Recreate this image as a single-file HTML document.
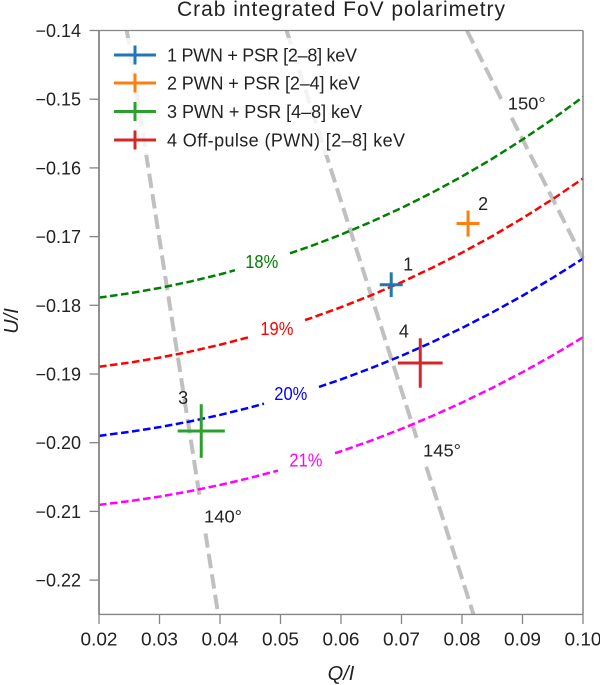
<!DOCTYPE html>
<html lang="en">
<head>
<meta charset="utf-8">
<title>Crab integrated FoV polarimetry</title>
<style>
html,body{margin:0;padding:0;background:#fff;width:600px;height:685px;overflow:hidden}
svg{display:block}
text{font-family:"Liberation Sans",sans-serif;fill:#222}
</style>
</head>
<body>
<svg id="chart" width="600" height="685" viewBox="0 0 600 685" xmlns="http://www.w3.org/2000/svg">
<rect x="0" y="0" width="600" height="685" fill="#fff"/>
<g id="angles"></g>
<g id="contours"></g>
<g id="points"></g>
<g id="legend"></g>
<g id="axes"></g>
<text x="341" y="16" font-size="21" text-anchor="middle" textLength="328" lengthAdjust="spacing">Crab integrated FoV polarimetry</text>
<text x="341" y="680" font-size="20" font-style="italic" text-anchor="middle">Q/I</text>
<text transform="translate(18,321) rotate(-90)" font-size="20" font-style="italic" text-anchor="middle">U/I</text>
</svg>
<script>
var xTicks = [0.02, 0.03, 0.04, 0.05, 0.06, 0.07, 0.08, 0.09, 0.10];
var yTicks = [-0.14, -0.15, -0.16, -0.17, -0.18, -0.19, -0.20, -0.21, -0.22];
var xTickLabels = ['0.02', '0.03', '0.04', '0.05', '0.06', '0.07', '0.08', '0.09', '0.10'];
var yTickLabels = ['\u22120.14', '\u22120.15', '\u22120.16', '\u22120.17', '\u22120.18', '\u22120.19', '\u22120.20', '\u22120.21', '\u22120.22'];

var contourQ = [0.02, 0.025, 0.03, 0.035, 0.04, 0.045, 0.05, 0.055, 0.06, 0.065, 0.07, 0.075, 0.08, 0.085, 0.09, 0.095, 0.10];
var contour18U = [-0.17889, -0.17826, -0.17748, -0.17656, -0.17550, -0.17428, -0.17292, -0.17139, -0.16971, -0.16785, -0.16583, -0.16363, -0.16125, -0.15867, -0.15588, -0.15289, -0.14967];
var contour19U = [-0.18894, -0.18835, -0.18762, -0.18675, -0.18574, -0.18459, -0.18330, -0.18187, -0.18028, -0.17854, -0.17664, -0.17457, -0.17234, -0.16993, -0.16733, -0.16454, -0.16155];
var contour20U = [-0.19900, -0.19843, -0.19774, -0.19691, -0.19596, -0.19487, -0.19365, -0.19229, -0.19079, -0.18914, -0.18735, -0.18540, -0.18330, -0.18104, -0.17861, -0.17600, -0.17321];
var contour21U = [-0.20905, -0.20851, -0.20785, -0.20706, -0.20616, -0.20512, -0.20396, -0.20267, -0.20125, -0.19969, -0.19799, -0.19615, -0.19416, -0.19203, -0.18974, -0.18728, -0.18466];
var contourSeries = [contour18U, contour19U, contour20U, contour21U];
var contourNames = ['18%', '19%', '20%', '21%'];
var contourGapStart = [0.04248, 0.04496, 0.04727, 0.04959];
var contourGapEnd = [0.05157, 0.05405, 0.05636, 0.05901];
var contourLabelQ = [0.0469, 0.0494, 0.0517, 0.0542];
var contourLabelU = [-0.17457, -0.1843, -0.1938, -0.2035];

var angle140Q = [0.0246, 0.0367, 0.0376, 0.0397];
var angle140U = [-0.14, -0.2082, -0.2132, -0.225];
var angle145Q = [0.0510, 0.0725, 0.0741, 0.0819];
var angle145U = [-0.14, -0.1993, -0.2035, -0.225];
var angle150Q = [0.0808, 0.0865, 0.0882, 0.10];
var angle150U = [-0.14, -0.15, -0.1527, -0.1732];
var angleLinesQ = [angle140Q, angle145Q, angle150Q];
var angleLinesU = [angle140U, angle145U, angle150U];
var angleNames = ['140\u00b0', '145\u00b0', '150\u00b0'];
var angleLabelQ = [0.0405, 0.0767, 0.0907];
var angleLabelU = [-0.2116, -0.2020, -0.1515];

var pointNames = ['1', '2', '3', '4'];
var pointQ = [0.0683, 0.0810, 0.0369, 0.0731];
var pointU = [-0.1770, -0.1681, -0.1983, -0.1884];
var pointQErr = [0.0019, 0.0019, 0.0039, 0.0037];
var pointUErr = [0.0018, 0.0019, 0.0039, 0.0036];
var pointLabelQ = [0.0711, 0.0835, 0.0339, 0.0704];
var pointLabelU = [-0.1749, -0.1661, -0.1944, -0.1847];
var legendLabels = ['1 PWN + PSR [2\u20138] keV', '2 PWN + PSR [2\u20134] keV', '3 PWN + PSR [4\u20138] keV', '4 Off-pulse (PWN) [2\u20138] keV'];

var NS = 'http://www.w3.org/2000/svg';
var pointColors = ['#1f77b4', '#ff7f0e', '#2ca02c', '#d62728'];
var contourColors = ['#008000', '#ff0000', '#0000ff', '#ff00ff'];

function xScale(q) { return 99 + (q - 0.02) * 6050; }
function yScale(u) { return 30.5 + (-0.14 - u) * 6870; }
function mk(tag, parent, attrs) {
  var el = document.createElementNS(NS, tag);
  for (var k in attrs) el.setAttribute(k, attrs[k]);
  document.getElementById(parent).appendChild(el);
  return el;
}
function interpU(q, qs, us) {
  for (var i = 0; i < qs.length - 1; i++) {
    if (q >= qs[i] && q <= qs[i + 1]) {
      return us[i] + (us[i + 1] - us[i]) * (q - qs[i]) / (qs[i + 1] - qs[i]);
    }
  }
  return us[us.length - 1];
}
function toPath(qs, us) {
  var d = '';
  for (var i = 0; i < qs.length; i++) {
    d += (i ? 'L' : 'M') + xScale(qs[i]).toFixed(2) + ' ' + yScale(us[i]).toFixed(2);
  }
  return d;
}

// Angle lines
angleLinesQ.forEach(function (qs, i) {
  var us = angleLinesU[i];
  var seg = mk('path', 'angles', {d: toPath(qs.slice(0, 2), us.slice(0, 2)) + toPath(qs.slice(2), us.slice(2)), fill: 'none', stroke: '#c0c0c0', 'stroke-width': 4, 'stroke-dasharray': '14.5 6.2'});
  
  
  var lab = mk('text', 'angles', {x: xScale(angleLabelQ[i]), y: yScale(angleLabelU[i]), 'font-size': 17.5, 'text-anchor': 'middle', textLength: 38, lengthAdjust: 'spacingAndGlyphs'});
  
  
  lab.textContent = angleNames[i];
});

// Contours
contourSeries.forEach(function (us, i) {
  var g0 = contourGapStart[i], g1 = contourGapEnd[i];
  var lq = [], lu = [], rq = [], ru = [];
  contourQ.forEach(function (q, j) {
    if (q < g0) { lq.push(q); lu.push(us[j]); }
    if (q > g1) { rq.push(q); ru.push(us[j]); }
  });
  lq.push(g0); lu.push(interpU(g0, contourQ, us));
  rq.unshift(g1); ru.unshift(interpU(g1, contourQ, us));
  var seg = mk('path', 'contours', {d: toPath(lq, lu) + toPath(rq, ru), fill: 'none', stroke: contourColors[i], 'stroke-width': 2.5, 'stroke-dasharray': '7.6 3.5'});
  
  
  var lab = mk('text', 'contours', {x: xScale(contourLabelQ[i]), y: yScale(contourLabelU[i]), 'font-size': 18.5, 'text-anchor': 'middle', textLength: 33, lengthAdjust: 'spacingAndGlyphs', style: 'fill:' + contourColors[i]});
  
  
  lab.textContent = contourNames[i];
});

// Measurements
pointQ.forEach(function (q, i) {
  var u = pointU[i];
  var h = mk('line', 'points', {x1: xScale(q - pointQErr[i]), x2: xScale(q + pointQErr[i]), y1: yScale(u), y2: yScale(u), stroke: pointColors[i], 'stroke-width': 3});
  
  
  var v = mk('line', 'points', {x1: xScale(q), x2: xScale(q), y1: yScale(u - pointUErr[i]), y2: yScale(u + pointUErr[i]), stroke: pointColors[i], 'stroke-width': 3});
  
  
  var lab = mk('text', 'points', {x: xScale(pointLabelQ[i]), y: yScale(pointLabelU[i]), 'font-size': 18, 'text-anchor': 'middle'});
  
  
  lab.textContent = pointNames[i];
});

// Legend
var legendBg = mk('rect', 'legend', {x: 104, y: 38, width: 308, height: 117, fill: '#fff', 'fill-opacity': 0.8});


var legendY = [55, 83, 111.5, 140];
var legendWidths = [190, 193, 195, 238];
legendLabels.forEach(function (t, i) {
  var y = legendY[i];
  var h = mk('line', 'legend', {x1: 114, x2: 156, y1: y, y2: y, stroke: pointColors[i], 'stroke-width': 3});
  
  
  var v = mk('line', 'legend', {x1: 135, x2: 135, y1: y - 9.5, y2: y + 9.5, stroke: pointColors[i], 'stroke-width': 3});
  
  
  var lab = mk('text', 'legend', {x: 167, y: y + 6.5, 'font-size': 18, textLength: legendWidths[i], lengthAdjust: 'spacing'});
  
  
  lab.textContent = t;
});

// Axes
var axisColor = '#858585';
var top_ = yScale(-0.14), bottom = yScale(-0.225), left = xScale(0.02), right = xScale(0.10);
var spineT = mk('line', 'axes', {x1: left, x2: right, y1: top_, y2: top_, stroke: axisColor, 'stroke-width': 1.3});


var spineB = mk('line', 'axes', {x1: left, x2: right, y1: bottom, y2: bottom, stroke: axisColor, 'stroke-width': 1.3});


var spineL = mk('line', 'axes', {x1: left, x2: left, y1: top_, y2: bottom, stroke: axisColor, 'stroke-width': 1.8});


var spineR = mk('line', 'axes', {x1: right, x2: right, y1: top_, y2: bottom, stroke: axisColor, 'stroke-width': 1.5});


xTicks.forEach(function (q, i) {
  var x = xScale(q);
  var t = mk('line', 'axes', {x1: x, x2: x, y1: bottom, y2: bottom + 9.5, stroke: axisColor, 'stroke-width': 1.3});
  
  
  var lab = mk('text', 'axes', {x: x, y: 645.5, 'font-size': 18.5, 'text-anchor': 'middle', textLength: 37, lengthAdjust: 'spacingAndGlyphs'});
  
  
  lab.textContent = xTickLabels[i];
});
yTicks.forEach(function (u, i) {
  var y = yScale(u);
  var t = mk('line', 'axes', {x1: left - 9.5, x2: left, y1: y, y2: y, stroke: axisColor, 'stroke-width': 1.3});
  
  
  var lab = mk('text', 'axes', {x: 81, y: y + 6.5, 'font-size': 18, 'text-anchor': 'end'});
  
  
  lab.textContent = yTickLabels[i];
});
</script>
</body>
</html>
